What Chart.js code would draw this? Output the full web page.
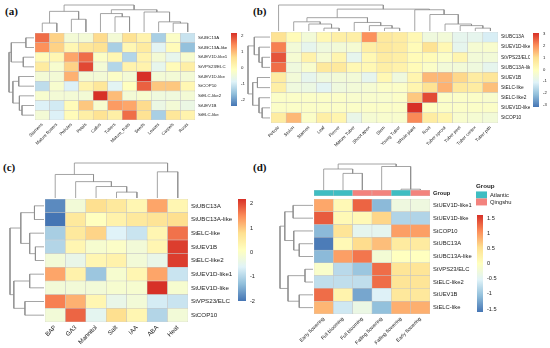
<!DOCTYPE html>
<html>
<head>
<meta charset="utf-8">
<script src="https://cdn.jsdelivr.net/npm/chart.js@4/dist/chart.umd.min.js"></script>
<style>
  body { margin: 0; width: 550px; height: 348px; position: relative; background: #fff; overflow: hidden; }
  canvas { position: absolute; }
  .tag { position: absolute; font: bold 11px "Liberation Serif", "Times New Roman", serif; color: #111; }
</style>
</head>
<body>
<div class="tag" style="left:5px;top:5px">(a)</div>
<div class="tag" style="left:253px;top:5px">(b)</div>
<div class="tag" style="left:3px;top:161px">(c)</div>
<div class="tag" style="left:253px;top:161px">(d)</div>
<script>
// (a) tissue expression
const aCols = ['Stamens', 'Mature flowers', 'Petioles', 'Petals', 'Callus', 'Tubers', 'Mature_fruits', 'Seeds', 'Leaves', 'Carpels', 'Roots'];
const aRows = ['StUBC13A', 'StUBC13A-like', 'StUEV1D-like1', 'StVPS23/ELC', 'StUEV1D-like', 'StCOP10', 'StELC-like2', 'StUEV1B', 'StELC-like'];
const aValues = [
    [1.7, 0.8, -0.4, -0.4, 0.7, -0.4, 0.6, 0.2, -1.4, -0.2, -1.1],
    [1.4, 0.8, 0.1, 0.5, 0.6, -1.4, 0.1, 0.4, -0.8, 0.0, -1.6],
    [0.0, 0.1, 1.2, 1.7, -0.2, 0.1, -1.3, 0.2, -0.4, -0.7, -0.3],
    [0.4, -0.3, 0.8, 2.0, -0.4, -1.3, 0.2, 0.2, -0.7, 0.0, 0.3],
    [-0.4, -0.4, 1.1, -0.4, -0.4, -0.2, -0.4, 2.2, -0.4, -0.4, -0.4],
    [-1.2, -0.3, -0.9, 0.2, 0.5, -0.8, -0.1, 1.8, 0.9, 0.9, 0.1],
    [-0.3, -0.4, -0.4, -0.4, 2.2, 1.0, -0.4, -0.3, -0.5, -0.5, -0.4],
    [-0.9, -1.0, 0.0, 0.9, -0.3, 1.3, 1.2, 0.7, -0.6, -0.4, -0.6],
    [-0.4, -0.9, 0.0, 0.3, 0.6, 0.3, 1.7, 0.6, -1.4, 0.5, 0.2]
];
const aRange = [-2.4, 2.2];
const aTicks = [2, 1, 0, -1, -2];
// merges: [left, right, height]; negative = leaf number, positive = earlier merge
const aColTree = [[-1, -2, 28], [-3, -4, 40], [1, 2, 65], [-6, -7, 48], [-5, 4, 58], [-10, -11, 28], [-9, 6, 32], [-8, 7, 63], [5, 8, 70], [3, 9, 85]];
const aRowTree = [[-1, -2, 25], [-3, -4, 33], [1, 2, 70], [-5, -6, 47], [-8, -9, 37], [-7, 5, 45], [4, 6, 65], [3, 7, 77]];

// (b) tissue expression
const bCols = ['Petiole', 'Stolon', 'Stamen', 'Leaf', 'Flower', 'Mature Tuber', 'Shoot apex', 'Stem', 'Young Tuber', 'Whole plant', 'Root', 'Tuber sprout', 'Tuber peel', 'Tuber cortex', 'Tuber pith'];
const bRows = ['StUBC13A', 'StUEV1D-like1', 'StVPS23/ELC', 'StUBC13A-like', 'StUEV1B', 'StELC-like', 'StELC-like2', 'StUEV1D-like', 'StCOP10'];
const bValues = [
    [0.9, 0.1, -0.5, 0.2, 0.5, 0.5, 2.0, 0.7, 0.6, 0.2, -0.6, -0.5, -0.9, -0.9, -1.2],
    [2.2, -0.5, -0.9, -0.6, -0.5, -0.4, 0.5, 0.7, 0.6, 0.1, 0.9, 0.2, -0.9, -0.4, -0.3],
    [2.7, -0.4, 0.4, -0.4, 0.3, -0.9, 0.2, 0.6, 0.5, 0.1, 0.1, -0.2, 0.3, -0.5, -0.5],
    [2.4, -0.6, -0.3, 0.7, 0.7, 0.2, 0.2, 0.5, 0.4, 0.1, -0.2, -0.5, -0.5, -0.6, -0.9],
    [0.6, -0.5, -0.9, -0.6, -0.5, -0.5, -0.9, 0.2, -0.6, 0.3, 1.5, 1.5, 1.1, 0.6, 0.8],
    [0.5, -0.6, -0.7, -1.0, -0.6, -0.5, -0.4, -0.2, -0.2, 0.3, 0.9, 1.6, 0.7, 0.6, 1.4],
    [-0.2, -0.2, -0.2, -0.2, -0.2, -0.3, -0.3, -0.3, -0.2, 1.3, 2.8, -0.2, -0.2, -0.2, -0.3],
    [-0.2, -0.2, -0.2, -0.2, -0.2, -0.2, -0.2, -0.2, -0.2, 3.1, -0.1, -0.2, -0.2, -0.2, -0.2],
    [0.6, 1.5, -0.2, 0.5, 0.3, -0.8, -0.4, -0.3, -0.3, 2.1, 0.6, 0.3, -0.3, -0.4, -0.5]
];
const bRange = [-3.2, 3.1];
const bTicks = [3, 2, 1, 0, -1, -2, -3];
const bColTree = [[-4, -5, 9], [-3, 1, 22], [-2, 2, 29], [-8, -9, 9], [-7, 4, 17], [-6, 5, 27], [3, 6, 42], [-14, -15, 9], [-13, 8, 17], [-12, 9, 22], [-11, 10, 52], [-10, 11, 67], [7, 12, 69], [-1, 13, 82]];
const bRowTree = [[-3, -4, 25], [-2, 1, 35], [-1, 2, 50], [-5, -6, 40], [-8, -9, 25], [-7, 5, 35], [4, 6, 55], [3, 7, 70]];

// (c) hormone and stress treatments
const cCols = ['BAP', 'GA3', 'Mannitol', 'Salt', 'IAA', 'ABA', 'Heat'];
const cRows = ['StUBC13A', 'StUBC13A-like', 'StELC-like', 'StUEV1B', 'StELC-like2', 'StUEV1D-like1', 'StUEV1D-like', 'StVPS23/ELC', 'StCOP10'];
const cValues = [
    [-1.8, -0.2, 0.8, 0.6, 0.3, 1.3, 0.3],
    [-2.0, 0.6, 0.1, 0.4, 0.6, 0.7, 0.8],
    [-1.1, 0.6, 0.9, -0.6, -0.8, 0.3, 1.7],
    [-1.0, 0.3, -0.1, 0.0, -0.2, 0.3, 2.1],
    [-0.2, -0.4, 0.3, 0.4, -0.2, -0.4, 2.1],
    [1.3, 0.4, -1.2, -0.1, 0.3, 1.3, -0.8],
    [-0.2, -0.2, -0.2, -0.1, -0.1, 2.2, -0.1],
    [1.6, 1.2, 0.3, -0.4, -0.2, -0.7, -0.8],
    [-0.2, 1.8, -0.5, 0.8, 0.3, -1.0, -0.2]
];
const cRange = [-2.0, 2.2];
const cTicks = [2, 1, 0, -1, -2];
const cColTree = [[-4, -5, 6], [-3, 1, 11.7], [-2, 2, 16.7], [-1, 3, 24], [-6, -7, 26.7], [4, 5, 35.7]];
const cRowTree = [[-1, -2, 30], [-4, -5, 27], [-3, 2, 45], [1, 3, 73], [-6, -7, 45], [-8, -9, 60], [5, 6, 95], [4, 7, 107]];

// (d) flowering stages
const dCols = ['Early flowering', 'Full blooming', 'Full blooming', 'Falling flowering', 'Falling flowering', 'Early flowering'];
const dGroups = ['Atlantic', 'Atlantic', 'Qingshu', 'Qingshu', 'Atlantic', 'Qingshu'];
const dRows = ['StUEV1D-like1', 'StUEV1D-like', 'StCOP10', 'StUBC13A', 'StUBC13A-like', 'StVPS23/ELC', 'StELC-like2', 'StUEV1B', 'StELC-like'];
const dValues = [
    [0.9, 0.1, 1.3, -1.1, -0.3, -0.3],
    [1.35, 0.1, 0.1, 0.6, -0.85, -0.85],
    [-1.1, 0.45, -0.45, -0.45, 0.95, 0.95],
    [-1.55, 0.1, 0.55, 0.75, 0.35, 0.35],
    [-1.1, 0.95, 1.2, -0.2, 0.0, 0.0],
    [-0.1, -0.8, -1.0, 1.25, 0.45, 0.45],
    [-0.75, -0.75, -0.75, 1.25, 0.45, 0.45],
    [1.25, 0.2, -1.25, -0.55, 0.4, 0.4],
    [0.8, -0.65, -0.35, -1.05, 0.85, 0.85]
];
const dRange = [-1.6, 1.6];
const dTicks = [1.5, 1, 0.5, 0, -0.5, -1, -1.5];
const dColTree = [[-2, -3, 16.6], [-1, 1, 21], [-5, -6, 0.8], [-4, 3, 23.5], [2, 4, 26]];
const dRowTree = [[-1, -2, 62], [-4, -5, 43], [-3, 2, 60], [1, 3, 88], [-6, -7, 25], [-8, -9, 43], [5, 6, 78], [4, 7, 103]];

const palette = ['#4575B4', '#91BFDB', '#E0F3F8', '#FFFFBF', '#FEE090', '#FC8D59', '#D73027'];
const groupColors = { Atlantic: '#3FBDC2', Qingshu: '#F3837E' };

Chart.defaults.font.family = '"Liberation Sans", Arial, sans-serif';
Chart.defaults.color = '#222';
Chart.defaults.animation = false;
Chart.defaults.responsive = false;
Chart.defaults.events = [];
Chart.defaults.plugins.legend.display = false;
Chart.defaults.plugins.tooltip.enabled = false;

function hexRgb(h) {
    return [1, 3, 5].map(i => parseInt(h.substr(i, 2), 16));
}

function colorFor(v, range) {
    let t = (v - range[0]) / (range[1] - range[0]);
    t = Math.max(0, Math.min(1, t)) * 6;
    const i = Math.min(5, Math.floor(t));
    const f = t - i;
    const c0 = hexRgb(palette[i]);
    const c1 = hexRgb(palette[i + 1]);
    return 'rgb(' + c0.map((c, k) => Math.round(c + (c1[k] - c) * f)).join(',') + ')';
}

function addCanvas(left, top, width, height) {
    const c = document.createElement('canvas');
    c.width = width;
    c.height = height;
    c.style.left = left + 'px';
    c.style.top = top + 'px';
    document.body.appendChild(c);
    return c;
}

const noGrid = { display: false, drawTicks: false };

function drawHeatmap(p) {
    const nR = p.rows.length;
    const cv = addCanvas(p.x - p.padL, p.y, p.padL + p.w + p.labelW, p.h + p.labelH);

    const datasets = p.rows.map((r, i) => ({
        label: r,
        data: p.cols.map(() => 1),
        backgroundColor: p.values[i].map(v => colorFor(v, p.range)),
        borderColor: '#c4c4c4',
        borderWidth: 0.5,
        borderSkipped: false,
        barPercentage: 1,
        categoryPercentage: 1
    })).reverse();

    new Chart(cv, {
        type: 'bar',
        data: { labels: p.cols, datasets: datasets },
        options: {
            layout: { padding: { left: p.padL, top: 0, right: 0, bottom: 0 } },
            scales: {
                x: {
                    stacked: true,
                    grid: noGrid,
                    border: { display: false },
                    ticks: { autoSkip: false, minRotation: 45, maxRotation: 45, padding: 2, font: { size: p.colFont } },
                    afterFit(s) { s.height = p.labelH; s.paddingLeft = 0; s.paddingRight = 0; }
                },
                y: {
                    stacked: true,
                    position: 'right',
                    min: 0,
                    max: nR,
                    grid: noGrid,
                    border: { display: false },
                    ticks: {
                        padding: 3,
                        font: { size: p.rowFont },
                        callback: v => p.rows[Math.round(nR - 0.5 - v)]
                    },
                    afterBuildTicks(s) { s.ticks = p.rows.map((r, i) => ({ value: nR - 0.5 - i })); },
                    afterFit(s) { s.width = p.labelW; s.paddingTop = 0; s.paddingBottom = 0; }
                }
            }
        }
    });
}

function treeSegments(merges) {
    const pos = [];
    const hgt = [];
    return merges.map(([a, b, h], k) => {
        const pa = a < 0 ? -a - 0.5 : pos[a - 1];
        const ha = a < 0 ? 0 : hgt[a - 1];
        const pb = b < 0 ? -b - 0.5 : pos[b - 1];
        const hb = b < 0 ? 0 : hgt[b - 1];
        pos[k] = (pa + pb) / 2;
        hgt[k] = h;
        return [[pa, ha], [pa, h], [pb, h], [pb, hb]];
    });
}

// vertical = tree above the columns, otherwise tree left of the rows
function drawTree(merges, n, box, vertical) {
    const cv = addCanvas(box.x, box.y, box.w, box.h);
    const top = merges[merges.length - 1][2];

    const datasets = treeSegments(merges).map(seg => ({
        data: seg.map(([q, h]) => vertical ? { x: q, y: h } : { x: h, y: q }),
        showLine: true,
        borderColor: '#8e8e8e',
        borderWidth: 0.8,
        pointRadius: 0,
        clip: false
    }));

    const posAxis = { display: false, min: 0, max: n };
    const hAxis = { display: false, min: 0, max: top };

    new Chart(cv, {
        type: 'scatter',
        data: { datasets: datasets },
        options: {
            layout: { padding: vertical ? { top: 1 } : { left: 1 } },
            scales: vertical
                ? { x: posAxis, y: hAxis }
                : { x: Object.assign({ reverse: true }, hAxis), y: Object.assign({ reverse: true }, posAxis) }
        }
    });
}

function drawColorbar(p) {
    const cv = addCanvas(p.x, p.y - 4, p.w + p.labelW, p.h + 8);
    new Chart(cv, {
        type: 'bar',
        data: {
            labels: [''],
            datasets: [{
                data: [[p.range[0], p.range[1]]],
                backgroundColor(c) {
                    const a = c.chart.chartArea;
                    if (!a) return palette[3];
                    const g = c.chart.ctx.createLinearGradient(0, a.bottom, 0, a.top);
                    palette.forEach((col, i) => g.addColorStop(i / 6, col));
                    return g;
                },
                borderWidth: 0,
                barPercentage: 1,
                categoryPercentage: 1
            }]
        },
        options: {
            layout: { padding: { top: 4, bottom: 4 } },
            scales: {
                x: { display: false },
                y: {
                    position: 'right',
                    min: p.range[0],
                    max: p.range[1],
                    grid: noGrid,
                    border: { display: false },
                    ticks: { padding: 4, font: { size: p.font }, callback: v => String(v) },
                    afterBuildTicks(s) { s.ticks = p.ticks.map(v => ({ value: v })); },
                    afterFit(s) { s.width = p.labelW; s.paddingTop = 0; s.paddingBottom = 0; }
                }
            }
        }
    });
}

// panel (a)
drawHeatmap({ x: 35, y: 33, w: 160, h: 87, padL: 20, labelW: 34, labelH: 36, cols: aCols, rows: aRows, values: aValues, range: aRange, rowFont: 4.4, colFont: 4.4 });
drawTree(aColTree, aCols.length, { x: 35, y: 4, w: 160, h: 28 }, true);
drawTree(aRowTree, aRows.length, { x: 8, y: 33, w: 26, h: 87 }, false);
drawColorbar({ x: 231, y: 33, w: 6, h: 73, labelW: 14, range: aRange, ticks: aTicks, font: 4.4 });

// panel (b)
drawHeatmap({ x: 271, y: 32, w: 227, h: 91, padL: 25, labelW: 32, labelH: 32, cols: bCols, rows: bRows, values: bValues, range: bRange, rowFont: 4.8, colFont: 4.5 });
drawTree(bColTree, bCols.length, { x: 271, y: 4, w: 227, h: 27 }, true);
drawTree(bRowTree, bRows.length, { x: 247, y: 32, w: 23, h: 91 }, false);
drawColorbar({ x: 533, y: 33, w: 6, h: 74, labelW: 14, range: bRange, ticks: bTicks, font: 4.2 });

// panel (c)
drawHeatmap({ x: 45, y: 199, w: 143, h: 123, padL: 22, labelW: 46, labelH: 26, cols: cCols, rows: cRows, values: cValues, range: cRange, rowFont: 6.2, colFont: 6.2 });
drawTree(cColTree, cCols.length, { x: 45, y: 162, w: 143, h: 36 }, true);
drawTree(cRowTree, cRows.length, { x: 9, y: 199, w: 35, h: 123 }, false);
drawColorbar({ x: 238, y: 199, w: 8, h: 102, labelW: 16, range: cRange, ticks: cTicks, font: 5.6 });

// panel (d)
drawHeatmap({ x: 314, y: 199, w: 116, h: 115, padL: 30, labelW: 44, labelH: 34, cols: dCols, rows: dRows, values: dValues, range: dRange, rowFont: 5.8, colFont: 5 });
drawTree(dColTree, dCols.length, { x: 314, y: 163, w: 116, h: 27 }, true);
drawTree(dRowTree, dRows.length, { x: 279, y: 199, w: 34, h: 115 }, false);
drawColorbar({ x: 477, y: 215, w: 6, h: 97, labelW: 20, range: dRange, ticks: dTicks, font: 5.6 });

// group annotation row
const groupCanvas = addCanvas(314, 190, 116 + 44, 6);
new Chart(groupCanvas, {
    type: 'bar',
    data: {
        labels: dCols,
        datasets: [{
            data: dCols.map(() => 1),
            backgroundColor: dGroups.map(g => groupColors[g]),
            borderColor: '#c4c4c4',
            borderWidth: 0.5,
            borderSkipped: false,
            barPercentage: 1,
            categoryPercentage: 1
        }]
    },
    options: {
        scales: {
            x: { display: false },
            y: {
                position: 'right',
                min: 0,
                max: 1,
                grid: noGrid,
                border: { display: false },
                ticks: { padding: 3, font: { size: 5.8, weight: 'bold' }, callback: () => 'Group' },
                afterBuildTicks(s) { s.ticks = [{ value: 0.5 }]; },
                afterFit(s) { s.width = 44; s.paddingTop = 0; s.paddingBottom = 0; }
            }
        }
    }
});

// group legend (canvas tall enough, the legend may use half of it)
const legendCanvas = addCanvas(476, 183, 46, 64);
new Chart(legendCanvas, {
    type: 'bar',
    data: {
        labels: [],
        datasets: Object.keys(groupColors).map(g => ({ label: g, data: [], backgroundColor: groupColors[g], borderWidth: 0 }))
    },
    options: {
        scales: { x: { display: false }, y: { display: false } },
        plugins: {
            legend: {
                display: true,
                position: 'top',
                align: 'start',
                title: { display: true, text: 'Group', position: 'start', padding: { top: 0, bottom: 1 }, font: { size: 6.2, weight: 'bold' } },
                labels: { boxWidth: 11, boxHeight: 7, padding: 0, font: { size: 5.8 } }
            }
        }
    }
});
</script>
</body>
</html>
